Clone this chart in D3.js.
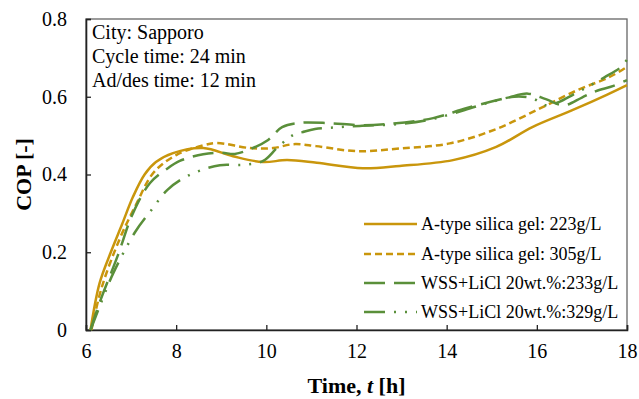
<!DOCTYPE html>
<html>
<head>
<meta charset="utf-8">
<script src="https://cdn.jsdelivr.net/npm/d3@7"></script>
<style>
  html, body { margin: 0; padding: 0; background: #fff; }
  svg { display: block; }
  svg text { font-family: "Liberation Serif", "Tinos", "Times New Roman", "DejaVu Serif", serif !important; fill: #000; }
</style>
</head>
<body>
<svg id="chart" width="639" height="399"></svg>
<script>
// ---------- data ----------
const xTicks = [6, 8, 10, 12, 14, 16, 18];
const yTicks = [0, 0.2, 0.4, 0.6, 0.8];
const seriesNames = [
  "A-type silica gel: 223g/L",
  "A-type silica gel: 305g/L",
  "WSS+LiCl 20wt.%:233g/L",
  "WSS+LiCl 20wt.%:329g/L"
];
const t1 = [6.1, 6.3, 6.55, 6.8, 7.04, 7.3, 7.55, 7.93, 8.6, 9.26, 9.92, 10.46, 11.12, 12.14, 12.96, 14.14, 15.1, 15.9, 16.8, 17.55, 18];
const v1 = [0, 0.12, 0.2, 0.272, 0.342, 0.4, 0.432, 0.455, 0.468, 0.447, 0.432, 0.437, 0.43, 0.416, 0.422, 0.437, 0.471, 0.522, 0.566, 0.605, 0.63];
const t2 = [6.12, 6.35, 6.75, 7.1, 7.5, 8.0, 8.6, 8.9, 9.64, 10.15, 10.6, 11.1, 12.0, 12.96, 14.07, 15.1, 16.07, 16.9, 17.6, 18];
const v2 = [0, 0.11, 0.235, 0.32, 0.405, 0.45, 0.475, 0.481, 0.468, 0.468, 0.478, 0.473, 0.46, 0.467, 0.48, 0.517, 0.57, 0.617, 0.65, 0.677];
const t3 = [6.1, 6.3, 6.7, 7.04, 7.42, 7.8, 8.08, 8.6, 9.0, 9.3, 9.64, 10.04, 10.35, 10.75, 11.4, 12.07, 12.67, 13.7, 14.45, 15.33, 15.8, 16.2, 16.6, 17.0, 17.3, 17.7, 18];
const v3 = [0, 0.07, 0.19, 0.3, 0.378, 0.415, 0.435, 0.452, 0.456, 0.453, 0.465, 0.489, 0.522, 0.533, 0.532, 0.527, 0.53, 0.545, 0.571, 0.597, 0.608, 0.594, 0.578, 0.598, 0.614, 0.628, 0.643];
const t4 = [6.1, 6.3, 6.6, 7.09, 7.46, 7.8, 8.15, 8.53, 8.97, 9.5, 9.93, 10.26, 10.6, 10.8, 11.08, 11.5, 12.07, 12.96, 13.7, 14.4, 15.0, 15.5, 15.9, 16.2, 16.5, 16.8, 17.2, 17.5, 17.84, 18];
const v4 = [0, 0.06, 0.145, 0.252, 0.31, 0.36, 0.39, 0.41, 0.424, 0.425, 0.435, 0.471, 0.502, 0.509, 0.517, 0.521, 0.525, 0.53, 0.543, 0.566, 0.587, 0.6, 0.596, 0.578, 0.587, 0.605, 0.63, 0.65, 0.674, 0.695];

const seriesT = [t1, t2, t3, t4];
const seriesV = [v1, v2, v3, v4];
const colors = ["#c9960c", "#c9960c", "#5a8f3a", "#5a8f3a"];
const dashes = [null, "7,4", "21,9", "21,9,2,9,2,9"];

// ---------- layout ----------
const W = 639, H = 399;
const margin = { left: 86, top: 19, right: 12, bottom: 69 };
const pw = W - margin.left - margin.right;
const ph = H - margin.top - margin.bottom;
const FONT = '"Liberation Serif", "Tinos", "Times New Roman", "DejaVu Serif", serif';

const svg = d3.select("#chart");
const g = svg.append("g").attr("transform", `translate(${margin.left},${margin.top})`);

const x = d3.scaleLinear().domain([6, 18]).range([0, pw]);
const y = d3.scaleLinear().domain([0, 0.8]).range([ph, 0]);

// frame (top/right gray)
g.append("rect").attr("x", 0).attr("y", 0).attr("width", pw).attr("height", ph)
  .attr("fill", "none").attr("stroke", "#666").attr("stroke-width", 1.3);

// axes
const xAxis = d3.axisBottom(x).tickValues(xTicks).tickFormat(d3.format("d"))
  .tickSize(-5).tickPadding(14);
const yAxis = d3.axisLeft(y).tickValues(yTicks).tickFormat(d => d === 0 ? "0" : d3.format(".1f")(d))
  .tickSize(-5).tickPadding(19);

const gx = g.append("g").attr("transform", `translate(0,${ph})`).call(xAxis);
const gy = g.append("g").call(yAxis);
[gx, gy].forEach(a => {
  a.attr("font-family", FONT);
  a.select(".domain").attr("stroke", "#222").attr("stroke-width", 1.6);
  a.selectAll(".tick line").attr("stroke", "#222").attr("stroke-width", 1.3);
  a.selectAll(".tick text").attr("font-family", FONT).style("font-size", "20px").attr("fill", "#111");
});

// lines
const line = d3.line().curve(d3.curveCatmullRom.alpha(0.5));
seriesT.forEach((ts, i) => {
  const pts = ts.map((t, k) => [x(t), y(seriesV[i][k])]);
  g.append("path").attr("d", line(pts))
    .attr("fill", "none")
    .attr("stroke", colors[i])
    .attr("stroke-width", 2.5)
    .attr("stroke-dasharray", dashes[i]);
});

// annotation
const notes = ["City: Sapporo", "Cycle time: 24 min", "Ad/des time: 12 min"];
notes.forEach((s, i) => {
  svg.append("text").attr("x", 92).attr("y", 39 + i * 24)
    .attr("font-family", FONT).style("font-size", "20px").text(s);
});

// legend
const legRows = [224, 254, 283, 312];
seriesNames.forEach((name, i) => {
  svg.append("line").attr("x1", 364).attr("x2", 417)
    .attr("y1", legRows[i]).attr("y2", legRows[i])
    .attr("stroke", colors[i]).attr("stroke-width", 2.5)
    .attr("stroke-dasharray", dashes[i]);
  svg.append("text").attr("x", 421).attr("y", legRows[i])
    .attr("dy", "0.35em").attr("font-family", FONT).style("font-size", "18px").text(name);
});

// axis titles
const xt = svg.append("text").attr("x", margin.left + pw / 2).attr("y", 393)
  .attr("text-anchor", "middle").attr("font-family", FONT)
  .style("font-size", "22px").style("font-weight", "bold");
xt.append("tspan").text("Time, ");
xt.append("tspan").style("font-style", "italic").text("t");
xt.append("tspan").text(" [h]");

svg.append("text")
  .attr("transform", `translate(31,${margin.top + ph / 2}) rotate(-90)`)
  .attr("text-anchor", "middle").attr("font-family", FONT)
  .style("font-size", "22px").style("font-weight", "bold")
  .text("COP [-]");
</script>
</body>
</html>
